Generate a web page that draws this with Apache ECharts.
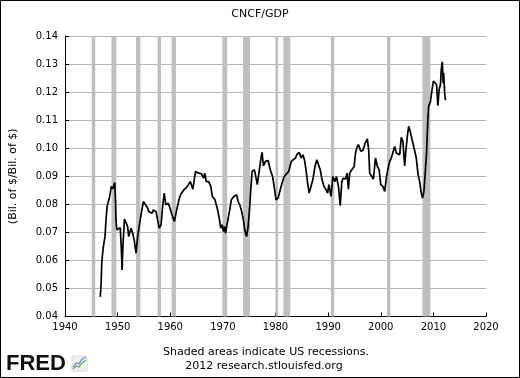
<!DOCTYPE html>
<html>
<head>
<meta charset="utf-8">
<script src="https://cdn.jsdelivr.net/npm/echarts@6/dist/echarts.min.js"></script>
<style>
html,body{margin:0;padding:0;background:#fff;}
#c{width:520px;height:378px;}
</style>
</head>
<body>
<div id="c"></div>
<script>
// Data
var years = [1946.70,1946.85,1947.00,1947.25,1947.60,1947.80,1948.00,1948.20,1948.35,1948.60,1948.80,1949.10,1949.45,1949.60,1949.70,1949.85,1950.20,1950.50,1950.70,1950.85,1951.00,1951.30,1951.60,1951.90,1952.10,1952.55,1952.85,1953.15,1953.50,1953.80,1954.10,1954.50,1954.90,1955.30,1955.70,1955.90,1956.20,1956.55,1956.80,1957.10,1957.30,1957.90,1958.25,1958.55,1958.85,1959.15,1959.60,1959.85,1960.35,1960.80,1961.15,1961.65,1961.95,1962.30,1962.60,1963.00,1963.45,1963.80,1964.30,1964.80,1965.40,1965.90,1966.35,1966.55,1966.85,1967.30,1967.70,1968.00,1968.50,1969.00,1969.35,1969.60,1969.85,1970.10,1970.30,1970.50,1970.90,1971.30,1971.60,1972.10,1972.60,1972.90,1973.20,1973.50,1973.90,1974.15,1974.50,1974.80,1975.10,1975.30,1975.55,1976.00,1976.55,1976.80,1977.20,1977.45,1977.70,1978.10,1978.60,1979.00,1979.45,1979.80,1980.10,1980.50,1980.90,1981.25,1981.55,1981.90,1982.25,1982.50,1982.80,1983.00,1983.40,1983.80,1984.05,1984.50,1984.90,1985.20,1985.50,1985.80,1986.10,1986.40,1986.60,1987.10,1987.50,1987.85,1988.20,1988.50,1988.85,1989.20,1989.55,1989.90,1990.15,1990.55,1990.90,1991.30,1991.60,1992.00,1992.30,1992.60,1992.90,1993.35,1993.60,1993.85,1994.10,1994.50,1994.95,1995.20,1995.45,1995.75,1996.20,1996.60,1997.00,1997.45,1997.70,1997.90,1998.30,1998.60,1999.00,1999.35,1999.70,2000.00,2000.40,2000.75,2001.10,2001.40,2001.70,2002.00,2002.30,2002.65,2002.95,2003.30,2003.60,2003.90,2004.20,2004.55,2004.75,2005.05,2005.30,2005.60,2005.95,2006.40,2006.75,2007.10,2007.40,2007.70,2007.95,2008.20,2008.45,2008.70,2008.95,2009.10,2009.45,2009.70,2010.00,2010.35,2010.60,2010.85,2011.10,2011.35,2011.50,2011.70,2011.85,2011.95,2012.15,2012.30];
var values = [0.0470,0.0512,0.0596,0.0644,0.0685,0.0745,0.0792,0.0807,0.0816,0.0840,0.0864,0.0855,0.0878,0.0810,0.0739,0.0709,0.0712,0.0716,0.0644,0.0566,0.0649,0.0747,0.0735,0.0721,0.0685,0.0715,0.0697,0.0672,0.0626,0.0685,0.0721,0.0769,0.0810,0.0798,0.0787,0.0774,0.0780,0.0768,0.0780,0.0786,0.0774,0.0715,0.0727,0.0792,0.0840,0.0798,0.0804,0.0792,0.0762,0.0739,0.0774,0.0816,0.0834,0.0840,0.0852,0.0858,0.0870,0.0881,0.0854,0.0917,0.0911,0.0909,0.0893,0.0911,0.0881,0.0881,0.0864,0.0828,0.0816,0.0780,0.0745,0.0715,0.0727,0.0703,0.0721,0.0697,0.0739,0.0780,0.0816,0.0828,0.0834,0.0810,0.0798,0.0780,0.0745,0.0709,0.0685,0.0721,0.0792,0.0852,0.0917,0.0923,0.0870,0.0905,0.0959,0.0985,0.0937,0.0953,0.0956,0.0923,0.0899,0.0858,0.0816,0.0822,0.0852,0.0876,0.0894,0.0905,0.0899,0.0917,0.0911,0.0953,0.0959,0.0965,0.0977,0.0985,0.0965,0.0977,0.0959,0.0923,0.0876,0.0840,0.0834,0.0888,0.0935,0.0959,0.0959,0.0923,0.0888,0.0864,0.0854,0.0840,0.0870,0.0828,0.0899,0.0881,0.0899,0.0858,0.0795,0.0881,0.0893,0.0890,0.0911,0.0854,0.0911,0.0923,0.0935,0.0983,0.1001,0.1013,0.0989,0.0992,0.1016,0.1033,0.0995,0.0911,0.0899,0.0890,0.0965,0.0935,0.0923,0.0870,0.0864,0.0846,0.0899,0.0929,0.0953,0.0965,0.0971,0.1006,0.0983,0.0986,0.0977,0.1039,0.1025,0.0937,0.0986,0.1042,0.1078,0.1060,0.1030,0.0995,0.0965,0.0905,0.0881,0.0840,0.0822,0.0846,0.0911,0.0983,0.1102,0.1149,0.1167,0.1203,0.1239,0.1236,0.1227,0.1152,0.1209,0.1227,0.1280,0.1308,0.1233,0.1269,0.1195,0.1171];
var recessionStart = [1945.08,1948.83,1953.50,1957.58,1960.25,1969.92,1973.83,1980.00,1981.50,1990.50,2001.17,2007.92];
var recessionEnd   = [1945.75,1949.75,1954.33,1958.25,1961.08,1970.83,1975.17,1980.50,1982.83,1991.17,2001.83,2009.42];
var xTicks = {min: 1940, max: 2020, step: 10};
var yTicks = {min: 0.04, max: 0.14, step: 0.01};
var title = 'CNCF/GDP';
var yName = '(Bil. of $/Bil. of $)';
var note1 = 'Shaded areas indicate US recessions.';
var note2 = '2012 research.stlouisfed.org';

var seriesData = years.map(function(y, i){ return [y, values[i]]; });
var bands = recessionStart.map(function(s, i){ return [{xAxis: s}, {xAxis: recessionEnd[i]}]; });

var chart = echarts.init(document.getElementById('c'), null, {renderer: 'canvas'});
var font = 'DejaVu Sans';
chart.setOption({
  animation: false,
  backgroundColor: '#fff',
  title: {
    text: title, left: 'center', top: 4,
    textStyle: {fontFamily: font, fontSize: 11, fontWeight: 'normal', color: '#000'}
  },
  grid: {left: 62, right: 34, top: 36, bottom: 61.5, containLabel: false},
  xAxis: {
    type: 'value', min: xTicks.min, max: xTicks.max, interval: xTicks.step,
    axisLine: {lineStyle: {color: '#000', width: 1}},
    axisTick: {inside: true, length: 4, lineStyle: {color: '#000'}},
    axisLabel: {color: '#000', fontFamily: font, fontSize: 10, margin: 6,
      formatter: function(v){ return String(Math.round(v)); }},
    splitLine: {show: false}
  },
  yAxis: {
    type: 'value', min: yTicks.min, max: yTicks.max, interval: yTicks.step,
    name: yName, nameLocation: 'middle', nameGap: 46, nameRotate: 90,
    nameTextStyle: {fontFamily: font, fontSize: 11, color: '#000'},
    axisLine: {show: true, lineStyle: {color: '#000', width: 1}},
    axisTick: {show: true, inside: true, length: 4, lineStyle: {color: '#000'}},
    axisLabel: {color: '#000', fontFamily: font, fontSize: 10, margin: 7,
      formatter: function(v){ return v.toFixed(2); }},
    splitLine: {show: true, lineStyle: {color: '#b4b4b4', width: 1}}
  },
  series: [
    {
      type: 'line', data: [], silent: true,
      markArea: {silent: true, itemStyle: {color: '#bfbfbf', opacity: 1}, data: bands}
    },
    {
      type: 'line', data: seriesData, showSymbol: false, symbol: 'none',
      lineStyle: {color: '#000', width: 1.7}, z: 5, silent: true
    }
  ],
  graphic: [
    {type: 'rect', shape: {x: 0.5, y: 0.5, width: 519, height: 377},
     style: {fill: 'none', stroke: '#000', lineWidth: 1}, silent: true},
    {type: 'text', x: 266, y: 352, style: {text: note1, fontFamily: font, fontSize: 11,
     fill: '#000', align: 'center', verticalAlign: 'middle'}},
    {type: 'text', x: 264, y: 366, style: {text: note2, fontFamily: font, fontSize: 11,
     fill: '#000', align: 'center', verticalAlign: 'middle'}},
    {type: 'text', x: 6, y: 364, style: {text: 'FRED', fontFamily: 'Liberation Sans', fontWeight: 'bold',
     fontSize: 22, fill: '#111', align: 'left', verticalAlign: 'middle'}},
    {type: 'rect', shape: {x: 72, y: 356, width: 15, height: 15},
     style: {fill: '#f2f2f2', stroke: '#d8d8d8', lineWidth: 1}},
    {type: 'polyline', shape: {points: [[73,369],[76,366],[79,367],[82,363],[86,360]]},
     style: {stroke: '#6aa84f', lineWidth: 1.2, fill: 'none'}},
    {type: 'polyline', shape: {points: [[73,367],[76,363],[79,364],[82,359],[86,357]]},
     style: {stroke: '#5b8fd6', lineWidth: 1.2, fill: 'none'}}
  ]
});
</script>
</body>
</html>
